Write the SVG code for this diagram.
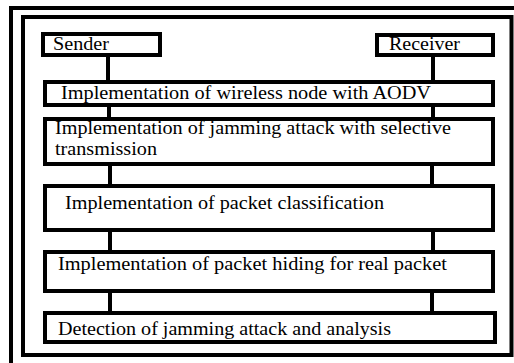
<svg xmlns="http://www.w3.org/2000/svg" width="514" height="363" viewBox="0 0 514 363">
<style>
.frame{fill:none;stroke:#000;stroke-width:4}
.box{fill:#fff;stroke:#000;stroke-width:4}
.conn{stroke:#000;stroke-width:4;fill:none}
text{font-family:"Liberation Serif","Times New Roman",serif;font-size:19px;fill:#000}
</style>
<rect width="514" height="363" fill="#fff"/>
<g id="frames">
<rect class="frame" x="11" y="8" width="512" height="366"/>
<rect class="frame" x="23" y="17" width="488.5" height="338"/>
</g>
<g id="connectors">
<line class="conn" x1="108" y1="55" x2="108" y2="82"/>
<line class="conn" x1="433" y1="55" x2="433" y2="82"/>
<line class="conn" x1="109" y1="105" x2="109" y2="119"/>
<line class="conn" x1="433" y1="105" x2="433" y2="119"/>
<line class="conn" x1="110" y1="164" x2="110" y2="186"/>
<line class="conn" x1="432" y1="164" x2="432" y2="186"/>
<line class="conn" x1="110" y1="230" x2="110" y2="252"/>
<line class="conn" x1="433" y1="230" x2="433" y2="252"/>
<line class="conn" x1="110" y1="291" x2="110" y2="313"/>
<line class="conn" x1="432" y1="291" x2="432" y2="313"/>
</g>
<g id="sender">
<rect class="box" x="43" y="34" width="117" height="21"/>
<text x="53" y="50" textLength="56" lengthAdjust="spacingAndGlyphs">Sender</text>
</g>
<g id="receiver">
<rect class="box" x="377" y="35" width="116" height="20"/>
<text x="389" y="50" textLength="71" lengthAdjust="spacingAndGlyphs">Receiver</text>
</g>
<g id="wireless">
<rect class="box" x="45" y="82" width="448" height="23"/>
<text x="61" y="99" textLength="370" lengthAdjust="spacingAndGlyphs">Implementation of wireless node with AODV</text>
</g>
<g id="jamming">
<rect class="box" x="45" y="119" width="448" height="45"/>
<text x="55" y="134" textLength="396" lengthAdjust="spacingAndGlyphs">Implementation of jamming attack with selective</text>
<text x="55" y="155" textLength="102" lengthAdjust="spacingAndGlyphs">transmission</text>
</g>
<g id="classification">
<rect class="box" x="45" y="186" width="448" height="44"/>
<text x="65" y="209" textLength="319" lengthAdjust="spacingAndGlyphs">Implementation of packet classification</text>
</g>
<g id="hiding">
<rect class="box" x="45" y="252" width="448" height="39"/>
<text x="58" y="270" textLength="389" lengthAdjust="spacingAndGlyphs">Implementation of packet hiding for real packet</text>
</g>
<g id="detection">
<rect class="box" x="45" y="313" width="450" height="29"/>
<text x="58" y="335" textLength="333" lengthAdjust="spacingAndGlyphs">Detection of jamming attack and analysis</text>
</g>
</svg>
